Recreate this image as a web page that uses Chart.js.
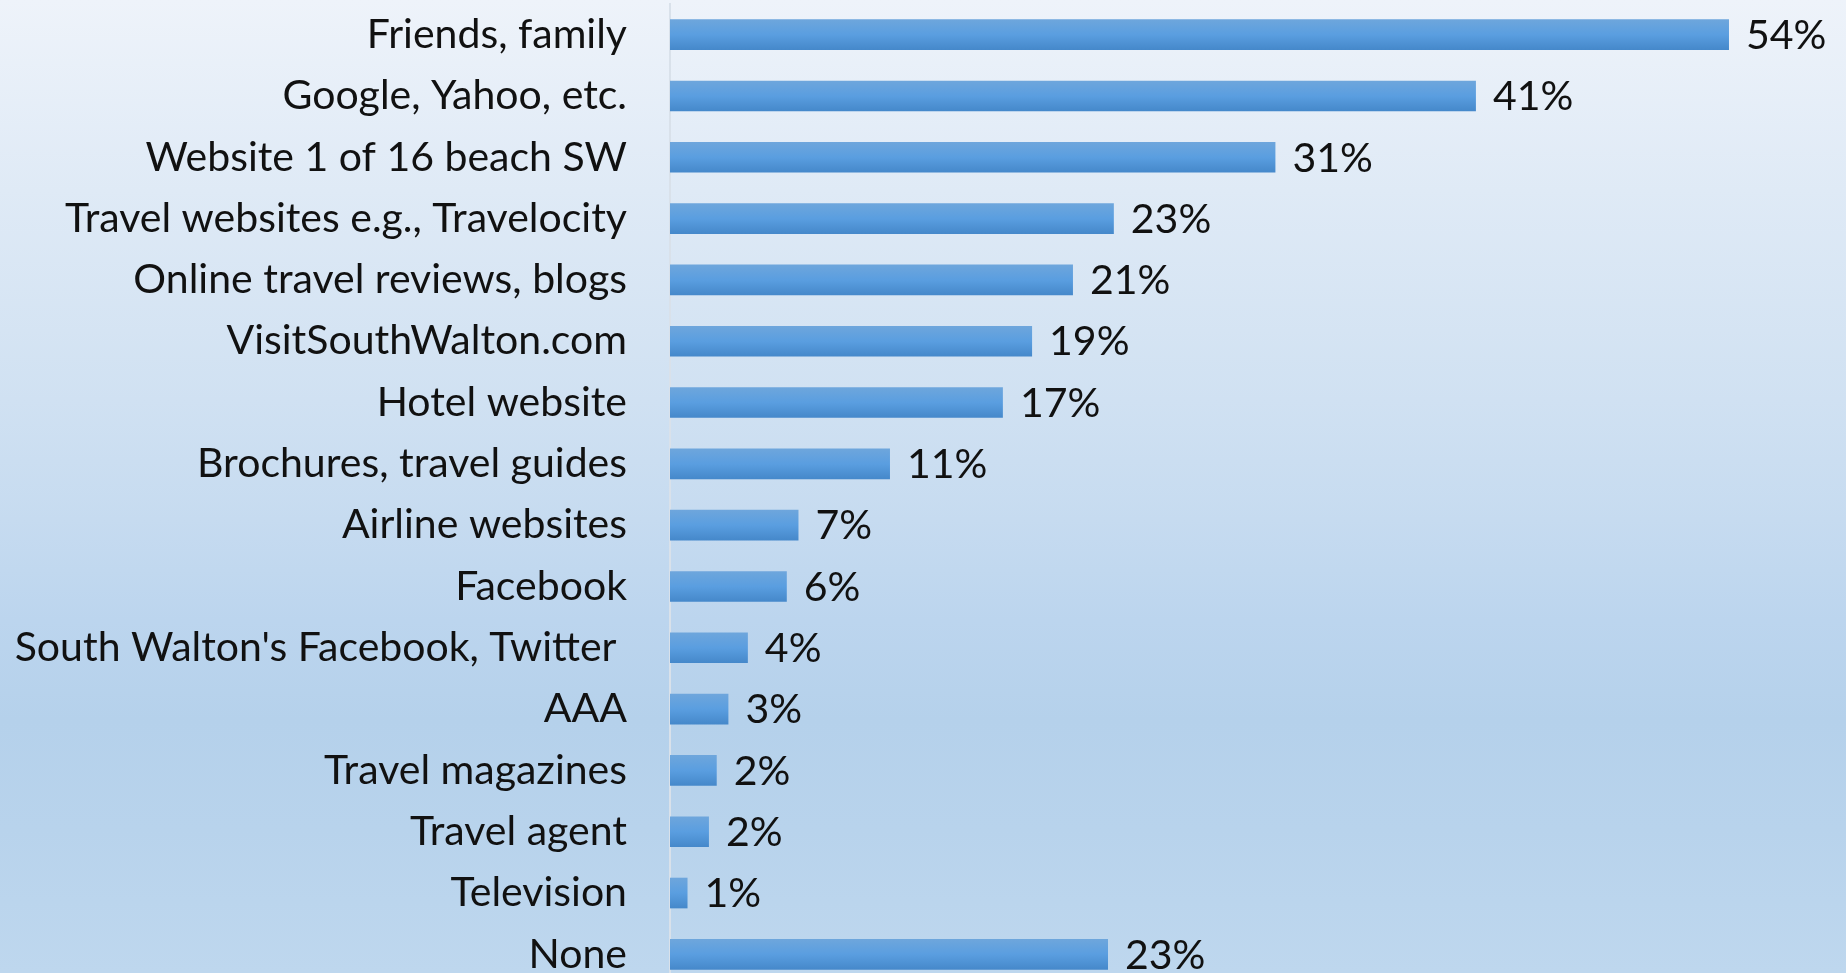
<!DOCTYPE html>
<html>
<head>
<meta charset="utf-8">
<script src="https://cdn.jsdelivr.net/npm/chart.js@4.4.0/dist/chart.umd.min.js"></script>
<style>
    html, body {
        margin: 0;
        padding: 0;
        width: 1846px;
        height: 973px;
        overflow: hidden;
    }
    body {
        background: linear-gradient(to bottom,
            #eef3fa 0px, #dfeaf6 190px, #d0e1f2 400px, #c6dbf0 520px,
            #bcd5ee 620px, #b5d1eb 720px, #b8d3ec 830px, #bed7ee 973px);
    }
    #wrap {
        position: absolute;
        left: 0;
        top: 0;
        width: 1846px;
        height: 990px;
    }
</style>
</head>
<body>
<div id="wrap"><canvas id="chart"></canvas></div>
<script>
const categories = [
    'Friends, family',
    'Google, Yahoo, etc.',
    'Website 1 of 16 beach SW',
    'Travel websites e.g., Travelocity',
    'Online travel reviews, blogs',
    'VisitSouthWalton.com',
    'Hotel website',
    'Brochures, travel guides',
    'Airline websites',
    'Facebook',
    "South Walton's Facebook, Twitter ",
    'AAA',
    'Travel magazines',
    'Travel agent',
    'Television',
    'None'
];

// percent of respondents
const shares = [54.4, 41.4, 31.1, 22.8, 20.7, 18.6, 17.1, 11.3, 6.6, 6.0, 4.0, 3.0, 2.4, 2.0, 0.9, 22.5];

const axisMax = 60;

const FONT = { family: 'Lato', size: 41 };
const TEXT_COLOR = '#111111';

function barFill(ctx) {
    const chart = ctx.chart;
    const yScale = chart.scales.y;
    if (!yScale || !chart.chartArea || ctx.dataIndex === undefined) {
        return '#5a9ee0';
    }
    const cy = yScale.getPixelForValue(ctx.dataIndex);
    const half = yScale.height / categories.length * 0.25;
    if (!isFinite(cy) || !isFinite(half) || half <= 0) {
        return '#5a9ee0';
    }
    const g = chart.ctx.createLinearGradient(0, cy - half, 0, cy + half);
    g.addColorStop(0, '#6ea6dc');
    g.addColorStop(0.5, '#5a9ee0');
    g.addColorStop(1, '#4588ca');
    return g;
}

// value labels to the right of each bar
const valueLabels = {
    id: 'valueLabels',
    afterDatasetsDraw(chart) {
        const ctx = chart.ctx;
        const meta = chart.getDatasetMeta(0);
        ctx.save();
        ctx.font = FONT.size + 'px ' + FONT.family;
        ctx.fillStyle = TEXT_COLOR;
        ctx.textAlign = 'left';
        ctx.textBaseline = 'middle';
        meta.data.forEach((bar, i) => {
            ctx.fillText(Math.round(shares[i]) + '%', bar.x + 17, bar.y + 1);
        });
        ctx.restore();
    }
};

new Chart(document.getElementById('chart'), {
    type: 'bar',
    data: {
        labels: categories,
        datasets: [{
            data: shares,
            backgroundColor: barFill,
            borderWidth: 0,
            barPercentage: 0.5,
            categoryPercentage: 1
        }]
    },
    options: {
        indexAxis: 'y',
        responsive: true,
        maintainAspectRatio: false,
        animation: false,
        layout: {
            autoPadding: false,
            padding: { top: 4, right: 8, bottom: 5, left: 0 }
        },
        plugins: {
            legend: { display: false },
            tooltip: { enabled: false }
        },
        scales: {
            x: {
                display: false,
                min: 0,
                max: axisMax
            },
            y: {
                grid: { display: false, drawTicks: false },
                border: { display: true, color: '#d9e1ea', width: 2 },
                ticks: {
                    color: TEXT_COLOR,
                    font: FONT,
                    padding: 43,
                    autoSkip: false
                },
                afterFit(scale) {
                    scale.width = 670;
                    scale.paddingTop = 0;
                    scale.paddingBottom = 0;
                }
            }
        }
    },
    plugins: [valueLabels]
});
</script>
</body>
</html>
